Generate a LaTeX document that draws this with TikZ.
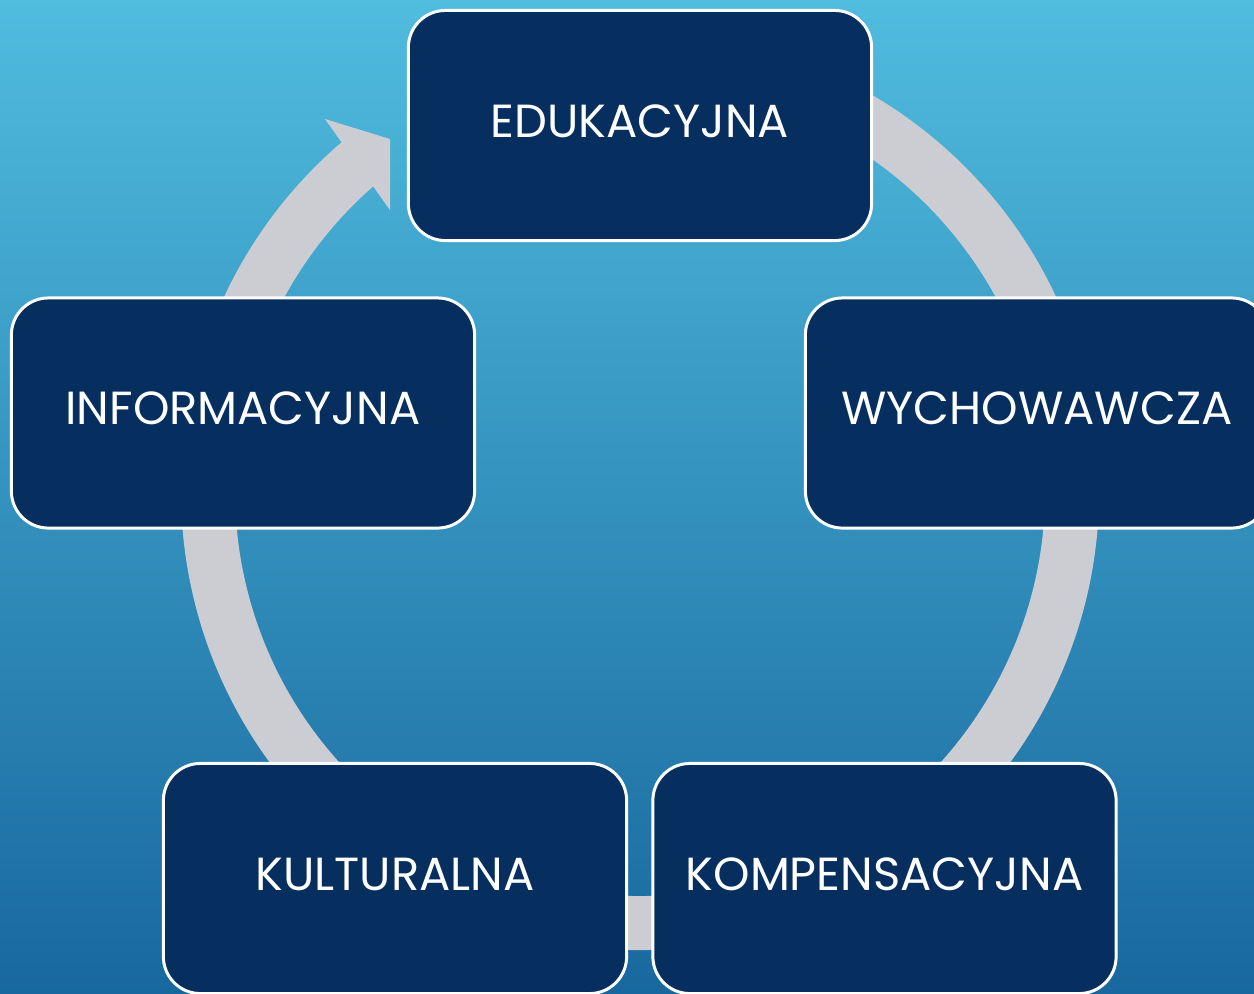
\documentclass[tikz,border=0pt]{standalone}
\usepackage{fontspec}
\setmainfont{Poppins}
\definecolor{bgtop}{RGB}{80,188,222}
\definecolor{bgbot}{RGB}{24,104,158}
\definecolor{navy}{RGB}{6,46,94}
\definecolor{ringgray}{RGB}{203,205,211}
\begin{document}
\begin{tikzpicture}[x=0.01cm,y=-0.01cm,
    box/.style={draw=white,line width=0.85pt,fill=navy,rounded corners=0.37cm,
        minimum width=4.63cm,minimum height=2.3cm,text=white,text depth=0.09cm,
        font=\fontsize{13.2}{16}\selectfont},
    ring/.style={ringgray,line width=0.54cm}]
        \useasboundingbox(0,0)rectangle(1254,993);
        \clip(0,0)rectangle(1254,993);
        \fill[top color=bgtop,bottom color=bgbot](0,0)rectangle(1254,993);
        \coordinate(c)at(640,491);
        % ring with arrow head
        \draw[ring](c)++(-100:432)arc[start angle=-100,end angle=229.5,radius=432];
        \fill[ringgray](325,119)--(390,139)--(390,210)--cycle;
        \node[box](edu)at(640,125.5){EDUKACYJNA};
        \node[box](wych)at(1037,413){WYCHOWAWCZA};
        \node[box](komp)at(884.5,878.5){KOMPENSACYJNA};
        \node[box](kult)at(395,878.5){KULTURALNA};
        \node[box](info)at(243,413){INFORMACYJNA};
    \end{tikzpicture}
\end{document}
